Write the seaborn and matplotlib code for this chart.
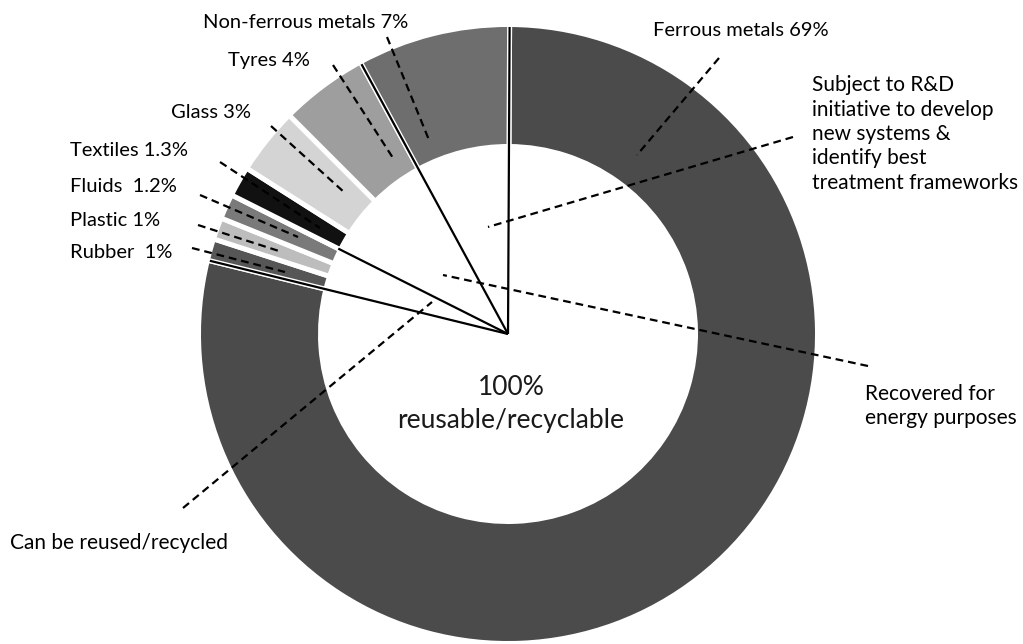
import numpy as np
import matplotlib
matplotlib.use("Agg")
import matplotlib.pyplot as plt
import seaborn as sns

# ring sectors, clockwise from 12 o'clock (sizes in degrees)
materials = ["Ferrous metals", "Rubber", "Plastic", "Fluids", "Textiles",
             "Glass", "Tyres", "Non-ferrous metals"]
sector_deg = [283.5, 4.1, 4.1, 4.7, 5.7, 12.6, 16.5, 28.8]
labels = ["Ferrous metals 69%", "Rubber  1%", "Plastic 1%", "Fluids  1.2%",
          "Textiles 1.3%", "Glass 3%", "Tyres 4%", "Non-ferrous metals 7%"]
greys = ["#4b4b4b", "#565656", "#bdbdbd", "#7a7a7a", "#111111",
         "#d4d4d4", "#9e9e9e", "#6e6e6e"]

# solid lines from the centre: after which sector, and whether they cross the ring
split_after = ["Ferrous metals", "Fluids", "Tyres", "Non-ferrous metals"]
split_full = [True, False, True, True]

W, H = 1023, 644
CX, CY = 508, H - 334          # ring centre (pixels, y up)
R_OUT, R_IN = 307, 190
EDGE = 3.6                     # white gap between sectors, pt
START = 0.3                    # ferrous starts just right of 12 o'clock

def img(x, y):
    return x, H - y

def polar(a_deg, r):
    a = np.radians(a_deg)
    return CX + r * np.sin(a), CY + r * np.cos(a)

sns.set_theme(style="white")
plt.rcParams["font.family"] = ["Lato", "DejaVu Sans"]

fig = plt.figure(figsize=(W / 100, H / 100), dpi=100)
ax = fig.add_axes([0, 0, 1, 1])

pad = EDGE / 72 * 100 / 2
ax.pie(sector_deg, colors=greys, startangle=90 - START, counterclock=False,
       radius=R_OUT + pad, center=(CX, CY),
       wedgeprops=dict(width=R_OUT - R_IN + 2 * pad, edgecolor="white",
                       linewidth=EDGE))

# radial split lines
ends = START + np.cumsum(sector_deg) / np.sum(sector_deg) * 360
for name, full in zip(split_after, split_full):
    a = ends[materials.index(name)]
    x1, y1 = polar(a, R_OUT if full else R_IN)
    ax.plot([CX, x1], [CY, y1], color="black", lw=1.6, solid_capstyle="butt")

# dashed leader lines (image pixel coordinates, y down)
leaders = [
    ((719, 58), (637, 155)),
    ((192, 248), (285, 272)),
    ((198, 225), (282, 252)),
    ((200, 195), (298, 237)),
    ((220, 162), (320, 228)),
    ((271, 126), (345, 193)),
    ((333, 65), (393, 158)),
    ((387, 37), (429, 140)),
    ((793, 137), (488, 227)),
    ((868, 366), (443, 275)),
    ((183, 508), (432, 302)),
]
for p, q in leaders:
    (x0, y0), (x1, y1) = img(*p), img(*q)
    ax.plot([x0, x1], [y0, y1], color="black", lw=1.6,
            linestyle=(0, (3.5, 2.2)))

# sector labels
label_pos = [(653, 30), (70, 252), (70, 220), (70, 186), (70, 150),
             (171, 112), (228, 60), (203, 22)]
for txt, (x, y) in zip(labels, label_pos):
    ax.text(*img(x, y), txt, fontsize=14.5, ha="left", va="center", color="black")

ax.text(*img(812, 134), "Subject to R&D\ninitiative to develop\nnew systems &\nidentify best\ntreatment frameworks",
        fontsize=15, ha="left", va="center", linespacing=1.28, color="black")
ax.text(*img(865, 406), "Recovered for\nenergy purposes",
        fontsize=15, ha="left", va="center", linespacing=1.3, color="black")
ax.text(*img(10, 543), "Can be reused/recycled",
        fontsize=15, ha="left", va="center", color="black")
ax.text(*img(511, 404), "100%\nreusable/recyclable",
        fontsize=19, ha="center", va="center", linespacing=1.42, color="#1a1a1a")

ax.set_xlim(0, W)
ax.set_ylim(0, H)
ax.set_aspect("equal")
ax.axis("off")

fig.savefig("out.png", dpi=100, facecolor="white")
